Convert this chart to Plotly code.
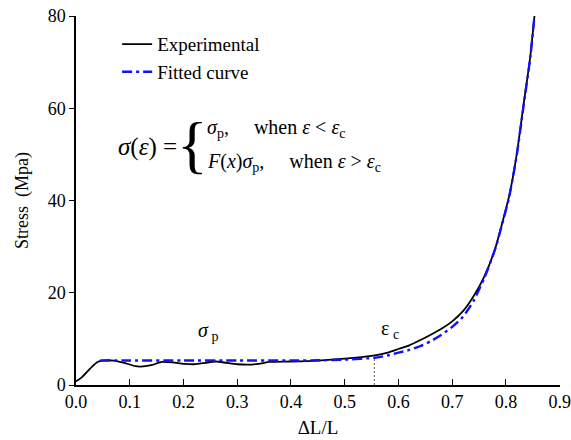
import plotly.graph_objects as go

# Experimental curve
exp_x = [0.0, 0.01, 0.02, 0.03, 0.04, 0.05, 0.07, 0.09, 0.11, 0.12, 0.14, 0.16, 0.18, 0.20,
         0.22, 0.24, 0.26, 0.28, 0.30, 0.32, 0.34, 0.36, 0.40, 0.45, 0.50, 0.55, 0.58, 0.60,
         0.62, 0.64, 0.66, 0.68, 0.70, 0.72, 0.74, 0.76, 0.78, 0.795, 0.806, 0.82, 0.833,
         0.845, 0.853]
exp_y = [0.8, 1.6, 2.8, 4.0, 5.0, 5.3, 5.3, 4.8, 4.1, 4.0, 4.3, 5.0, 4.9, 4.6,
         4.5, 4.8, 5.1, 4.8, 4.5, 4.4, 4.6, 5.0, 5.1, 5.3, 5.7, 6.3, 7.0, 7.8,
         8.6, 9.7, 10.9, 12.2, 13.8, 16.0, 19.3, 23.6, 29.6, 36.0, 41.0, 50.0, 61.0,
         71.0, 80.0]

# Fitted curve
fit_x = [0.045, 0.10, 0.20, 0.30, 0.40, 0.45, 0.50, 0.555, 0.58, 0.60, 0.62, 0.64, 0.66,
         0.68, 0.70, 0.72, 0.74, 0.76, 0.78, 0.795, 0.806, 0.82, 0.833, 0.845, 0.853]
fit_y = [5.3, 5.3, 5.3, 5.3, 5.3, 5.35, 5.5, 5.9, 6.4, 7.0, 7.6, 8.4, 9.5,
         10.9, 12.6, 14.8, 18.3, 23.3, 29.5, 35.8, 40.8, 49.8, 60.8, 70.8, 80.0]

eps_c = 0.555
sigma_at_eps_c = 5.9

x_ticks = [0.0, 0.1, 0.2, 0.3, 0.4, 0.5, 0.6, 0.7, 0.8, 0.9]
x_tick_labels = ["0.0", "0.1", "0.2", "0.3", "0.4", "0.5", "0.6", "0.7", "0.8", "0.9"]
y_ticks = [0, 20, 40, 60, 80]
y_tick_labels = ["0", "20", "40", "60", "80"]

FONT = "Times New Roman, Liberation Serif, serif"

fig = go.Figure()
fig.add_trace(go.Scatter(x=[eps_c, eps_c], y=[0, sigma_at_eps_c], mode="lines",
                         line=dict(color="#555555", width=1, dash="2px,2px"),
                         showlegend=False, hoverinfo="skip"))
fig.add_trace(go.Scatter(x=exp_x, y=exp_y, mode="lines", name="Experimental",
                         line=dict(color="black", width=1.8, shape="spline", smoothing=0.6)))
fig.add_trace(go.Scatter(x=fit_x, y=fit_y, mode="lines", name="Fitted curve",
                         line=dict(color="#1010ff", width=2.4, dash="10px,4px,3px,4px",
                                   shape="spline", smoothing=0.6)))

fig.update_layout(
    width=571, height=440,
    margin=dict(l=76, r=11, t=16, b=55, autoexpand=False),
    paper_bgcolor="white", plot_bgcolor="white",
    font=dict(family=FONT, size=16, color="black"),
    legend=dict(x=0.085, y=0.975, xanchor="left", yanchor="top",
                bgcolor="rgba(0,0,0,0)", font=dict(family=FONT, size=19),
                tracegroupgap=0, itemwidth=30),
    xaxis=dict(range=[0, 0.9005], tickvals=x_ticks, ticktext=x_tick_labels,
               ticks="inside", ticklen=6, tickwidth=1.3, tickcolor="black",
               showline=True, linecolor="black", linewidth=1.5,
               showgrid=False, zeroline=False, automargin=False,
               tickfont=dict(family=FONT, size=18),
               title=dict(text="ΔL/L", font=dict(family=FONT, size=19), standoff=9)),
    yaxis=dict(range=[0, 80], tickvals=y_ticks, ticktext=y_tick_labels,
               ticks="outside", ticklen=5, tickwidth=1.3, tickcolor="black",
               showline=True, linecolor="black", linewidth=1.5,
               showgrid=False, zeroline=False, automargin=False,
               tickfont=dict(family=FONT, size=18),
               title=dict(text="Stress  (Mpa)", font=dict(family=FONT, size=18), standoff=14)),
)

# Labels on curve
fig.add_annotation(x=0.245, y=11.5, xref="x", yref="y", showarrow=False,
                   text="<i>σ</i><sub> p</sub>", font=dict(family=FONT, size=20))
fig.add_annotation(x=0.585, y=12.0, xref="x", yref="y", showarrow=False,
                   text="ε<sub> c</sub>", font=dict(family=FONT, size=20))

# Formula
fig.add_annotation(x=0.082, y=0.645, xref="paper", yref="paper", xanchor="left", yanchor="middle",
                   showarrow=False, text="<i>σ</i>(<i>ε</i>)&nbsp;=", font=dict(family=FONT, size=25))
fig.add_annotation(x=0.240, y=0.652, xref="paper", yref="paper", xanchor="center", yanchor="middle",
                   showarrow=False, text="{", font=dict(family=FONT, size=64))
fig.add_annotation(x=0.266, y=0.695, xref="paper", yref="paper", xanchor="left", yanchor="middle",
                   showarrow=False,
                   text="<i>σ</i><sub>p</sub>,&nbsp;&nbsp;&nbsp;&nbsp;&nbsp;when <i>ε</i> &lt; <i>ε</i><sub>c</sub>",
                   font=dict(family=FONT, size=20))
fig.add_annotation(x=0.266, y=0.602, xref="paper", yref="paper", xanchor="left", yanchor="middle",
                   showarrow=False,
                   text="<i>F</i>(<i>x</i>)<i>σ</i><sub>p</sub>,&nbsp;&nbsp;&nbsp;&nbsp;&nbsp;when <i>ε</i> &gt; <i>ε</i><sub>c</sub>",
                   font=dict(family=FONT, size=20))

fig.write_html("out.html")
